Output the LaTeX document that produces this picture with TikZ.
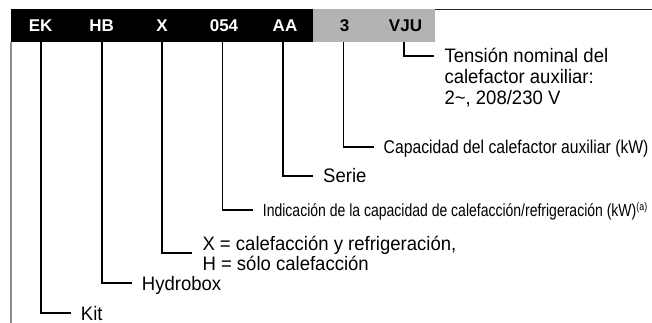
\documentclass[tikz,border=0pt]{standalone}
\usepackage{fontspec}
\setmainfont{Liberation Sans}
\newfontfamily\lblfont[FakeStretch=0.95]{Liberation Sans}
\newfontfamily\capfont[FakeStretch=0.85]{Liberation Sans}
\newfontfamily\indfont[FakeStretch=0.8]{Liberation Sans}
\usetikzlibrary{calc}
\definecolor{bargray}{HTML}{B3B3B3}
\definecolor{framegray}{HTML}{8C8C8C}
\begin{document}
\begin{tikzpicture}[x=1pt,y=-1pt,
  hdr/.style={font=\fontsize{17}{18}\selectfont\bfseries, minimum height=33pt, inner sep=0pt, anchor=center},
  hdrw/.style={hdr,text=white},
  conn/.style={line width=1.8pt, line join=miter},
  lbl/.style={anchor=west, inner xsep=10pt, inner ysep=0pt, font=\lblfont\fontsize{19.5}{19.5}\selectfont, text height=14pt, text depth=0pt},
  caplbl/.style={lbl, font=\capfont\fontsize{18.5}{18.5}\selectfont, text height=13.2pt},
  indlbl/.style={lbl, font=\indfont\fontsize{17.5}{17.5}\selectfont, text height=12.5pt},
]
\useasboundingbox (0,0) rectangle (652,323);
\fill[black] (11,9) rectangle (313,42);
\fill[bargray] (313,9) rectangle (435,42);
\draw[line width=1.2pt, black!85] (435,9.6) -- (652,9.6);
\draw[line width=1.2pt, framegray] (11,42) -- (11,323);

\node[hdrw] (ek)  at (40.7,25.5) {EK};
\node[hdrw] (hb)  at (101.7,25.5) {HB};
\node[hdrw] (x)   at (162.0,25.5) {X};
\node[hdrw] (num) at (224,25.5) {054};
\node[hdrw] (aa)  at (285,25.5) {AA};
\node[hdr]  (three) at (344.5,25.5) {3};
\node[hdr]  (vju) at (405.5,25.5) {VJU};

\node[lbl] (ten1) at (434.3,56) {Tensión nominal del};
\node[lbl] (ten2) at (434.3,77) {calefactor auxiliar:};
\node[lbl] (ten3) at (434.3,98) {2\textasciitilde, 208/230 V};
\node[caplbl] (cap) at (373.5,146.7) {Capacidad del calefactor auxiliar (kW)};
\node[lbl] (serie) at (313,175.7) {Serie};
\node[indlbl] (ind) at (252.7,210) {Indicación de la capacidad de calefacción/refrigeración (kW)\raisebox{6pt}{\fontsize{11}{11}\selectfont(a)}};
\node[lbl] (x1) at (192.3,243.5) {X = calefacción y refrigeración,};
\node[lbl] (x2) at (192.3,263) {H = sólo calefacción};
\node[lbl] (hydro) at (131.7,283.3) {Hydrobox};
\node[lbl] (kit) at (70.7,313.3) {Kit};

\draw[conn] ([xshift=-1.5pt]num.south) |- (ind.west);
\draw[conn] (ek.south) |- (kit.west);
\draw[conn] (hb.south) |- (hydro.west);
\draw[conn] (x.south) |- ($(x1.west)!0.5!(x2.west)$);
\draw[conn] ([xshift=-1.7pt]aa.south) |- (serie.west);
\draw[conn] ([xshift=-1pt]three.south) |- (cap.west);
\draw[conn] ([xshift=-1.2pt]vju.south) |- (ten1.west);
\end{tikzpicture}
\end{document}
